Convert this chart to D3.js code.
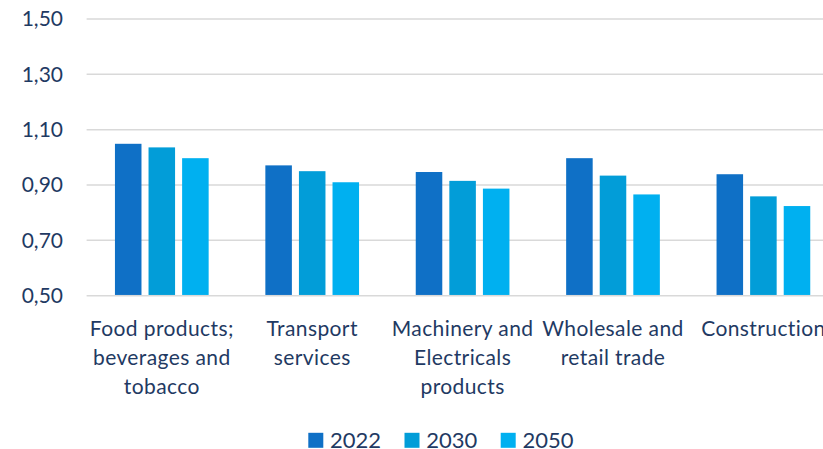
<!DOCTYPE html>
<html>
<head>
<meta charset="utf-8">
<script src="https://cdn.jsdelivr.net/npm/d3@7"></script>
<style>
  html, body { margin: 0; padding: 0; background: #fff; overflow: hidden; }
  svg { display: block; font-family: Lato, "Liberation Sans", sans-serif; }
</style>
</head>
<body>
<div id="chart"></div>
<script>
// ─── DATA ───
const categories = [
    "Food products;\nbeverages and\ntobacco",
    "Transport\nservices",
    "Machinery and\nElectricals\nproducts",
    "Wholesale and\nretail trade",
    "Construction"
];
const seriesNames = ["2022", "2030", "2050"];
const values2022 = [1.049, 0.971, 0.947, 0.997, 0.939];
const values2030 = [1.036, 0.950, 0.915, 0.934, 0.859];
const values2050 = [0.997, 0.910, 0.887, 0.866, 0.824];
const yTicks = [0.5, 0.7, 0.9, 1.1, 1.3, 1.5];

const seriesValues = [values2022, values2030, values2050];
const colors = ["#0F70C6", "#029DD8", "#00B0F0"];
const textColor = "#1F3A63";

const width = 823, height = 449;
const margin = { top: 19, left: 86.6, bottom: 295.7, right: 838.6 };

const svg = d3.select("#chart").append("svg")
    .attr("width", width)
    .attr("height", height);

// ─── SCALES ───
const x0 = d3.scaleBand()
    .domain(categories)
    .range([margin.left, margin.right])
    .paddingInner(0.377)
    .paddingOuter(0.1885);

const x1 = d3.scaleBand()
    .domain(seriesNames)
    .range([0, x0.bandwidth()])
    .paddingInner(0.21);

const y = d3.scaleLinear()
    .domain([0.5, 1.5])
    .range([margin.bottom, margin.top]);

const fmt = v => d3.format(".2f")(v).replace(".", ",");

// ─── GRID + Y AXIS ───
svg.append("g")
    .attr("transform", `translate(${margin.left},0)`)
    .call(d3.axisLeft(y).tickValues(yTicks).tickFormat(fmt).tickSize(0).tickPadding(23.6))
    .call(g => g.select(".domain").remove())
    .call(g => g.selectAll("text")
        .attr("fill", textColor)
        .attr("font-size", "21px")
        .attr("font-family", "Lato, sans-serif"));

svg.append("g").selectAll("line")
    .data(yTicks)
    .join("line")
    .attr("x1", margin.left)
    .attr("x2", width)
    .attr("y1", d => y(d))
    .attr("y2", d => y(d))
    .attr("stroke", "#D9D9D9")
    .attr("stroke-width", 1.5);

// ─── BARS ───
const groups = svg.append("g").selectAll("g")
    .data(categories)
    .join("g")
    .attr("transform", d => `translate(${x0(d)},0)`);

groups.selectAll("rect")
    .data((d, i) => seriesNames.map((s, j) => ({ s, v: seriesValues[j][i], c: colors[j] })))
    .join("rect")
    .attr("x", d => x1(d.s))
    .attr("y", d => y(d.v))
    .attr("width", x1.bandwidth())
    .attr("height", d => y(0.5) - y(d.v) - 0.75)
    .attr("fill", d => d.c);

// ─── CATEGORY LABELS ───
const labels = svg.append("g").selectAll("text")
    .data(categories)
    .join("text")
    .attr("text-anchor", "middle")
    .attr("fill", textColor)
    .attr("font-size", "21px")
    .attr("letter-spacing", "0.4px")
    .attr("transform", d => `translate(${x0(d) + x0.bandwidth() / 2},328.6)`);

labels.selectAll("tspan")
    .data(d => d.split("\n"))
    .join("tspan")
    .attr("x", 0)
    .attr("y", (d, i) => i * 29.2)
    .attr("dy", "0.35em")
    .text(d => d);

// ─── LEGEND ───
const legend = svg.append("g")
    .attr("transform", "translate(308.3,440.3)");

const items = legend.selectAll("g")
    .data(seriesNames)
    .join("g")
    .attr("transform", (d, i) => `translate(${i * 96.2},0)`);

items.append("rect")
    .attr("x", 0)
    .attr("y", -7.5)
    .attr("width", 15)
    .attr("height", 15)
    .attr("fill", (d, i) => colors[i]);

items.append("text")
    .attr("x", 21.7)
    .attr("dy", "0.33em")
    .attr("fill", textColor)
    .attr("font-size", "22px")
    .text(d => d);
</script>
</body>
</html>
